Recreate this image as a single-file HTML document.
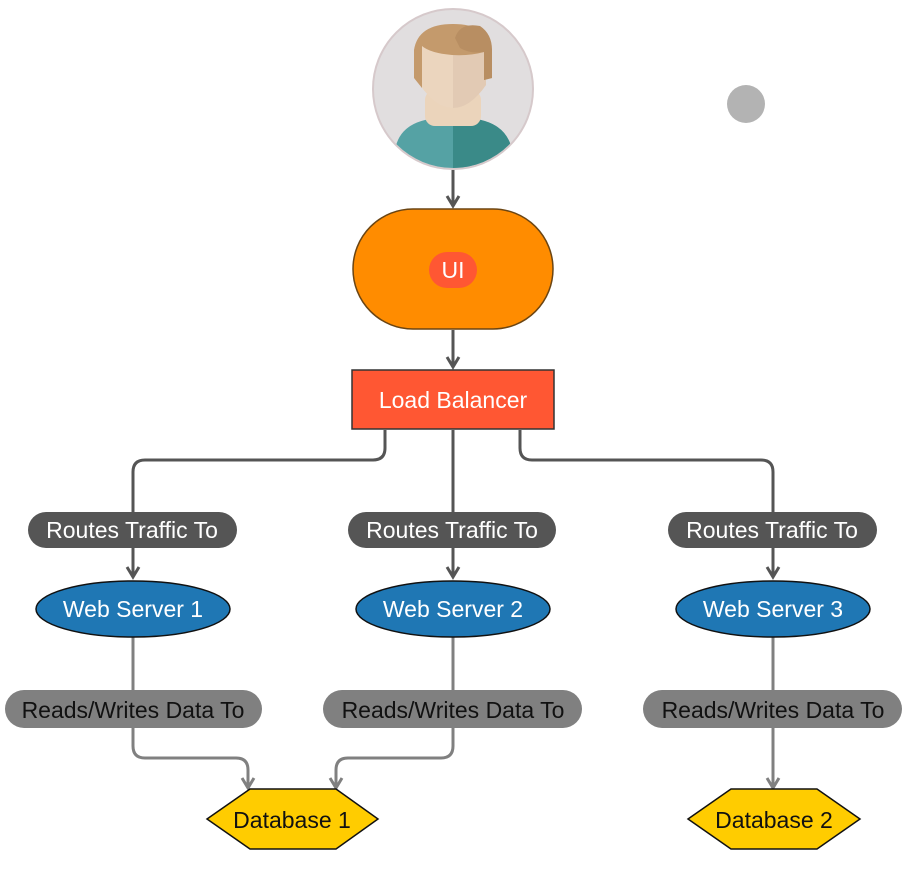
<!DOCTYPE html>
<html><head><style>body{margin:0;background:#fff}svg{display:block}text{font-family:"Liberation Sans",Arial,sans-serif}</style></head><body>
<svg width="907" height="876" viewBox="0 0 907 876" xmlns="http://www.w3.org/2000/svg">
<defs>
<clipPath id="cc"><circle cx="453" cy="89" r="79"/></clipPath>
</defs>
<circle cx="453" cy="89" r="80" fill="#e1dedf" stroke="#d6c9cb" stroke-width="2"/>
<g clip-path="url(#cc)">
<path d="M395,150 Q400,120 440,118 L466,118 Q506,120 512,150 L512,180 L395,180Z" fill="#55a2a4"/>
<path d="M453,118 L466,118 Q506,120 512,150 L512,180 L453,180Z" fill="#3a8a88"/>
<rect x="425" y="90" width="56" height="36" rx="10" fill="#ebd4bb"/>
<path d="M420,45 L486,45 L486,85 Q470,108 453,108 Q436,108 420,85Z" fill="#ebd5be"/>
<path d="M453,45 L486,45 L486,85 Q470,108 453,108Z" fill="#e2cab4"/>
<path d="M414,78 L414,50 Q418,24 453,24 Q488,24 492,50 L492,78 L484,80 L484,52 Q470,56 452,55 Q430,53 422,46 L422,88Z" fill="#c49a6c"/>
<path d="M455,38 Q460,22 480,26 Q492,34 492,50 L492,78 L484,80 L484,52 Q470,54 460,48Z" fill="#b88e62"/>
</g>
<circle cx="746" cy="104" r="19" fill="#b3b3b3"/>
<g stroke="#555" stroke-width="3" fill="none">
<line x1="453" y1="170" x2="453" y2="205"/>
<line x1="453" y1="330" x2="453" y2="366"/>
<path d="M385,430 L385,448 Q385,460 373,460 L145,460 Q133,460 133,472 L133,575"/>
<line x1="453" y1="430" x2="453" y2="575"/>
<path d="M520,430 L520,448 Q520,460 532,460 L761,460 Q773,460 773,472 L773,575"/>
<path d="M447,196 L453,206 L459,196 M447,357 L453,367 L459,357 M127,567 L133,577 L139,567 M447,567 L453,577 L459,567 M767,567 L773,577 L779,567"/>
</g>
<g stroke="#808080" stroke-width="3" fill="none">
<path d="M133,637 L133,746 Q133,758 145,758 L236,758 Q248,758 248,770 L248,785"/>
<path d="M453,637 L453,746 Q453,758 441,758 L348,758 Q336,758 336,770 L336,785"/>
<line x1="773" y1="637" x2="773" y2="785"/>
<path d="M242,778 L248,788 L254,778 M330,778 L336,788 L342,778 M767,778 L773,788 L779,778"/>
</g>
<rect x="353" y="209" width="200" height="120" rx="60" fill="#ff8c00" stroke="#6b4513" stroke-width="1.5"/>
<rect x="429" y="252" width="48" height="36" rx="18" fill="#ff5733"/>
<text x="453" y="278" font-size="23" fill="#fff" text-anchor="middle">UI</text>
<rect x="352" y="370" width="202" height="59" fill="#ff5733" stroke="#333" stroke-width="1.5"/>
<text x="453" y="408" font-size="23" fill="#fff" text-anchor="middle">Load Balancer</text>
<g font-size="23" fill="#fff" text-anchor="middle">
<rect x="28" y="512" width="209" height="36" rx="18" fill="#555"/><text x="132" y="538">Routes Traffic To</text>
<rect x="348" y="512" width="208" height="36" rx="18" fill="#555"/><text x="452" y="538">Routes Traffic To</text>
<rect x="668" y="512" width="209" height="36" rx="18" fill="#555"/><text x="772" y="538">Routes Traffic To</text>
<ellipse cx="133" cy="609" rx="97" ry="28" fill="#1f77b4" stroke="#111" stroke-width="1.5"/><text x="133" y="617">Web Server 1</text>
<ellipse cx="453" cy="609" rx="97" ry="28" fill="#1f77b4" stroke="#111" stroke-width="1.5"/><text x="453" y="617">Web Server 2</text>
<ellipse cx="773" cy="609" rx="97" ry="28" fill="#1f77b4" stroke="#111" stroke-width="1.5"/><text x="773" y="617">Web Server 3</text>
</g>
<g font-size="23" fill="#111" text-anchor="middle">
<rect x="5" y="690" width="257" height="38" rx="19" fill="#808080"/><text x="133" y="718">Reads/Writes Data To</text>
<rect x="323" y="690" width="259" height="38" rx="19" fill="#808080"/><text x="453" y="718">Reads/Writes Data To</text>
<rect x="643" y="690" width="259" height="38" rx="19" fill="#808080"/><text x="773" y="718">Reads/Writes Data To</text>
<polygon points="207,819 250,789 336,789 378,819 336,849 250,849" fill="#ffcc00" stroke="#111" stroke-width="1.5"/>
<text x="292" y="828">Database 1</text>
<polygon points="688,819 731,789 817,789 860,819 817,849 731,849" fill="#ffcc00" stroke="#111" stroke-width="1.5"/>
<text x="774" y="828">Database 2</text>
</g>
</svg>
</body></html>
